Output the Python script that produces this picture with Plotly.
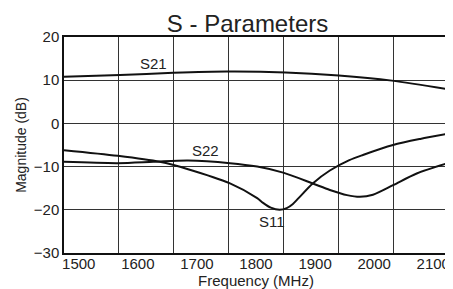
import plotly.graph_objects as go

# Data
s21_freq = [1475, 1570, 1660, 1750, 1850, 1940, 2030, 2125]
s21_db = [10.8, 11.2, 11.7, 12.0, 11.8, 11.1, 9.9, 7.9]

s11_freq = [1475, 1566, 1637, 1685, 1756, 1802, 1812, 1825, 1840, 1852, 1862,
            1872, 1896, 1925, 1958, 1981, 2032, 2078, 2125]
s11_db = [-6.2, -7.5, -8.9, -10.6, -13.9, -17.3, -18.4, -19.5, -20.0, -19.6, -18.7,
          -17.3, -13.9, -10.9, -8.5, -7.3, -5.0, -3.6, -2.4]

s22_freq = [1475, 1566, 1626, 1685, 1756, 1802, 1846, 1896, 1925, 1954,
            1976, 1998, 2032, 2072, 2125]
s22_db = [-8.9, -9.2, -8.9, -8.6, -9.2, -10.0, -11.4, -13.9, -15.4, -16.6,
          -17.0, -16.5, -14.3, -11.6, -9.2]

x_ticks = [1500, 1600, 1700, 1800, 1900, 2000, 2100]
y_ticks = [-30, -20, -10, 0, 10, 20]

labels = ["S21", "S22", "S11"]
label_pos_x = [1627, 1714, 1827]
label_pos_y = [13.9, -6.2, -22.8]

FONT = "Liberation Sans, Arial, sans-serif"
LINE = dict(color="#111111", width=2, shape="spline", smoothing=0.8)

# page body adds an 8px offset, so the figure is drawn 8px smaller
W, H = 445, 281

fig = go.Figure()
# empty trace to host the grid subplot
fig.add_trace(go.Scatter(x=[None], y=[None], xaxis="x", yaxis="y",
                         showlegend=False, hoverinfo="skip"))
for fx, fy in [(s21_freq, s21_db), (s11_freq, s11_db), (s22_freq, s22_db)]:
    fig.add_trace(go.Scatter(x=fx, y=fy, mode="lines", line=LINE,
                             xaxis="x2", yaxis="y", showlegend=False))

for t, ax, ay in zip(labels, label_pos_x, label_pos_y):
    fig.add_annotation(x=ax, y=ay, xref="x2", yref="y", text=t, showarrow=False,
                       font=dict(family=FONT, size=15, color="#222222"))

fig.update_layout(
    width=W, height=H,
    margin=dict(l=56, r=5, t=29, b=36, autoexpand=False),
    paper_bgcolor="white", plot_bgcolor="white",
    font=dict(family=FONT, size=15, color="#222222"),
    showlegend=False,
    title=dict(text="S - Parameters", x=0.478, xref="paper", xanchor="center",
               y=1 - 16 / H, yanchor="middle", yref="container",
               font=dict(family=FONT, size=24, color="#222222")),
    xaxis=dict(range=[0, 7], dtick=1, tick0=0, showgrid=True, gridcolor="#333333",
               gridwidth=1, showticklabels=False, ticks="", zeroline=False,
               showline=True, mirror=True, linecolor="#111111", linewidth=1.5,
               automargin=False),
    xaxis2=dict(overlaying="x", anchor="y", side="bottom", range=[1475, 2125],
                tickvals=x_ticks, ticktext=[str(v) for v in x_ticks], ticks="",
                showgrid=False, zeroline=False, showline=False, automargin=False,
                tickfont=dict(size=15),
                title=dict(text="Frequency (MHz)", standoff=0, font=dict(size=15))),
    yaxis=dict(range=[-30, 20], tickvals=y_ticks, showgrid=True, gridcolor="#333333",
               gridwidth=1, ticks="", zeroline=False, showline=True, mirror=True,
               linecolor="#111111", linewidth=1.5, tickfont=dict(size=15),
               automargin=False,
               title=dict(text="Magnitude (dB)", standoff=4, font=dict(size=14))),
)

fig.write_html("out.html")
